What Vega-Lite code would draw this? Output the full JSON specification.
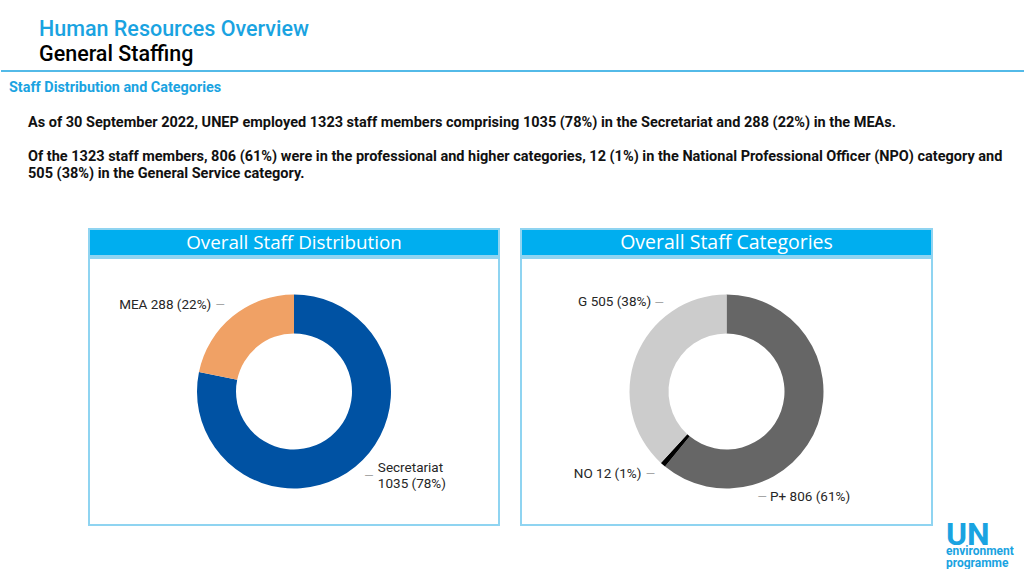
{
  "$schema": "https://vega.github.io/schema/vega-lite/v6.json",
  "background": "white",
  "padding": {"left": 0, "right": 0, "top": 19, "bottom": 0},
  "config": {
    "view": {"stroke": null},
    "title": {"anchor": "start", "frame": "group", "font": "Roboto", "subtitleFont": "Roboto"},
    "text": {"font": "Roboto"}
  },
  "spacing": 7.5,
  "resolve": {"scale": {"color": "independent", "theta": "independent"}},
  "vconcat": [
    {
      "width": 1024,
      "height": 1,
      "title": {
        "text": "Human Resources Overview",
        "subtitle": "General Staffing",
        "dx": 38,
        "fontSize": 21.5,
        "fontWeight": 500,
        "color": "#1aa3e1",
        "subtitleFontSize": 21.5,
        "subtitleFontWeight": 500,
        "subtitleColor": "#000000",
        "subtitlePadding": 3,
        "offset": 5
      },
      "data": {"values": [{}]},
      "mark": {"type": "rule", "color": "#1aa3e1", "strokeWidth": 1.5},
      "encoding": {"y": {"value": 0}}
    },
    {
      "width": 1024,
      "height": 11,
      "title": {
        "text": "Staff Distribution and Categories",
        "dx": 8,
        "fontSize": 14.4,
        "fontWeight": "bold",
        "color": "#1aa3e1",
        "offset": 0
      },
      "data": {"values": [{}]},
      "mark": {"type": "rule", "opacity": 0},
      "encoding": {"y": {"value": 0}}
    },
    {
      "width": 1024,
      "height": 11,
      "title": {
        "text": "As of 30 September 2022, UNEP employed 1323 staff members comprising 1035 (78%) in the Secretariat and 288 (22%) in the MEAs.",
        "dx": 27,
        "fontSize": 14.5,
        "fontWeight": "bold",
        "color": "#111111",
        "offset": 0
      },
      "data": {"values": [{}]},
      "mark": {"type": "rule", "opacity": 0},
      "encoding": {"y": {"value": 0}}
    },
    {
      "width": 1024,
      "height": 39,
      "title": {
        "text": [
          "Of the 1323 staff members, 806 (61%) were in the professional and higher categories, 12 (1%) in the National Professional Officer (NPO) category and",
          "505 (38%) in the General Service category."
        ],
        "dx": 27,
        "fontSize": 14.5,
        "fontWeight": "bold",
        "color": "#111111",
        "lineHeight": 17.5,
        "offset": 0
      },
      "data": {"values": [{}]},
      "mark": {"type": "rule", "opacity": 0},
      "encoding": {"y": {"value": 0}}
    },
    {
      "spacing": 20,
      "resolve": {"scale": {"color": "independent", "theta": "independent"}},
      "hconcat": [
        {
          "width": 67,
          "height": 1,
          "data": {"values": [{}]},
          "mark": {"type": "rule", "opacity": 0},
          "encoding": {"y": {"value": 0}}
        },
        {
          "spacing": 0,
          "vconcat": [
            {
              "width": 410,
              "height": 27,
              "view": {"fill": "#00aeef", "stroke": "#8fd4f1", "strokeWidth": 2},
              "data": {"values": [{}]},
              "mark": {"type": "text", "text": "Overall Staff Distribution", "font": "Open Sans", "fontSize": 18.8, "color": "white", "baseline": "middle", "align": "center"}
            },
            {
              "width": 410,
              "height": 267,
              "view": {"stroke": "#8fd4f1", "strokeWidth": 2},
              "data": {
                "values": [
                  {"category": "Secretariat", "staff": 1035, "rank": 1, "label": "Secretariat\n1035 (78%)"},
                  {"category": "MEA", "staff": 288, "rank": 2, "label": "MEA 288 (22%)"}
                ]
              },
              "encoding": {
                "theta": {"field": "staff", "type": "quantitative", "stack": true},
                "order": {"field": "rank", "type": "quantitative"}
              },
              "layer": [
                {
                  "mark": {"type": "arc", "innerRadius": 58, "outerRadius": 97},
                  "encoding": {
                    "color": {"field": "category", "type": "nominal", "legend": null,
                      "scale": {"domain": ["Secretariat", "MEA"], "range": ["#0052a3", "#f0a165"]}}
                  }
                },
                {
                  "mark": {"type": "text", "radius": 112, "align": "right", "baseline": "middle", "dx": -12, "fontSize": 13.5, "color": "#262626"},
                  "encoding": {
                    "detail": {"field": "category", "type": "nominal"},
                    "text": {"condition": {"test": "datum.category === 'MEA'", "field": "label", "type": "nominal"}, "value": ""}
                  }
                },
                {
                  "mark": {"type": "text", "radius": 112, "align": "center", "baseline": "middle", "dx": -3, "fontSize": 12, "color": "#a6a6a6"},
                  "encoding": {
                    "detail": {"field": "category", "type": "nominal"},
                    "text": {"condition": {"test": "datum.category === 'MEA'", "value": "—"}, "value": ""}
                  }
                },
                {
                  "mark": {"type": "text", "radius": 109, "align": "left", "baseline": "middle", "dx": 15, "dy": -8, "fontSize": 13.5, "lineBreak": "\n", "lineHeight": 16, "color": "#262626"},
                  "encoding": {
                    "detail": {"field": "category", "type": "nominal"},
                    "text": {"condition": {"test": "datum.category === 'Secretariat'", "field": "label", "type": "nominal"}, "value": ""}
                  }
                },
                {
                  "mark": {"type": "text", "radius": 109, "align": "center", "baseline": "middle", "dx": 6, "fontSize": 12, "color": "#a6a6a6"},
                  "encoding": {
                    "detail": {"field": "category", "type": "nominal"},
                    "text": {"condition": {"test": "datum.category === 'Secretariat'", "value": "—"}, "value": ""}
                  }
                }
              ]
            }
          ]
        },
        {
          "spacing": 13,
          "resolve": {"scale": {"color": "independent", "theta": "independent"}},
          "hconcat": [
            {
              "spacing": 0,
              "vconcat": [
                {
                  "width": 411,
                  "height": 27,
                  "view": {"fill": "#00aeef", "stroke": "#8fd4f1", "strokeWidth": 2},
                  "data": {"values": [{}]},
                  "mark": {"type": "text", "text": "Overall Staff Categories", "font": "Open Sans", "fontSize": 19.5, "color": "white", "baseline": "middle", "align": "center"}
                },
                {
                  "width": 411,
                  "height": 267,
                  "view": {"stroke": "#8fd4f1", "strokeWidth": 2},
                  "data": {
                    "values": [
                      {"category": "P+", "staff": 806, "rank": 1, "label": "P+ 806 (61%)"},
                      {"category": "NO", "staff": 12, "rank": 2, "label": "NO 12 (1%)"},
                      {"category": "G", "staff": 505, "rank": 3, "label": "G 505 (38%)"}
                    ]
                  },
                  "encoding": {
                    "theta": {"field": "staff", "type": "quantitative", "stack": true},
                    "order": {"field": "rank", "type": "quantitative"}
                  },
                  "layer": [
                    {
                      "mark": {"type": "arc", "innerRadius": 58, "outerRadius": 97},
                      "encoding": {
                        "color": {"field": "category", "type": "nominal", "legend": null,
                          "scale": {"domain": ["P+", "NO", "G"], "range": ["#666666", "#000000", "#cccccc"]}}
                      }
                    },
                    {
                      "mark": {"type": "text", "radius": 112, "align": "right", "baseline": "middle", "dx": 29, "dy": -49, "fontSize": 13.5, "color": "#262626"},
                      "encoding": {
                        "detail": {"field": "category", "type": "nominal"},
                        "text": {"condition": {"test": "datum.category === 'G'", "field": "label", "type": "nominal"}, "value": ""}
                      }
                    },
                    {
                      "mark": {"type": "text", "radius": 112, "align": "center", "baseline": "middle", "dx": 37, "dy": -48, "fontSize": 12, "color": "#a6a6a6"},
                      "encoding": {
                        "detail": {"field": "category", "type": "nominal"},
                        "text": {"condition": {"test": "datum.category === 'G'", "value": "—"}, "value": ""}
                      }
                    },
                    {
                      "mark": {"type": "text", "radius": 110, "align": "right", "baseline": "middle", "dx": -13, "dy": -1, "fontSize": 13.5, "color": "#262626"},
                      "encoding": {
                        "detail": {"field": "category", "type": "nominal"},
                        "text": {"condition": {"test": "datum.category === 'NO'", "field": "label", "type": "nominal"}, "value": ""}
                      }
                    },
                    {
                      "mark": {"type": "text", "radius": 110, "align": "center", "baseline": "middle", "dx": -4, "dy": -1, "fontSize": 12, "color": "#a6a6a6"},
                      "encoding": {
                        "detail": {"field": "category", "type": "nominal"},
                        "text": {"condition": {"test": "datum.category === 'NO'", "value": "—"}, "value": ""}
                      }
                    },
                    {
                      "mark": {"type": "text", "radius": 110, "align": "left", "baseline": "middle", "dx": -60, "dy": 68, "fontSize": 13.5, "color": "#262626"},
                      "encoding": {
                        "detail": {"field": "category", "type": "nominal"},
                        "text": {"condition": {"test": "datum.category === 'P+'", "field": "label", "type": "nominal"}, "value": ""}
                      }
                    },
                    {
                      "mark": {"type": "text", "radius": 110, "align": "center", "baseline": "middle", "dx": -68, "dy": 68, "fontSize": 12, "color": "#a6a6a6"},
                      "encoding": {
                        "detail": {"field": "category", "type": "nominal"},
                        "text": {"condition": {"test": "datum.category === 'P+'", "value": "—"}, "value": ""}
                      }
                    }
                  ]
                }
              ]
            },
            {
              "width": 66,
              "height": 286,
              "title": {
                "text": "UN",
                "orient": "bottom",
                "fontSize": 32,
                "fontWeight": "bold",
                "color": "#1aa3e1",
                "subtitle": ["environment", "programme"],
                "subtitleFontSize": 12,
                "subtitleFontWeight": "bold",
                "subtitleColor": "#1aa3e1",
                "subtitleLineHeight": 12,
                "subtitlePadding": -6,
                "offset": 4.5
              },
              "data": {"values": [{}]},
              "mark": {"type": "rule", "opacity": 0},
              "encoding": {"y": {"value": 0}}
            }
          ]
        }
      ]
    }
  ]
}
